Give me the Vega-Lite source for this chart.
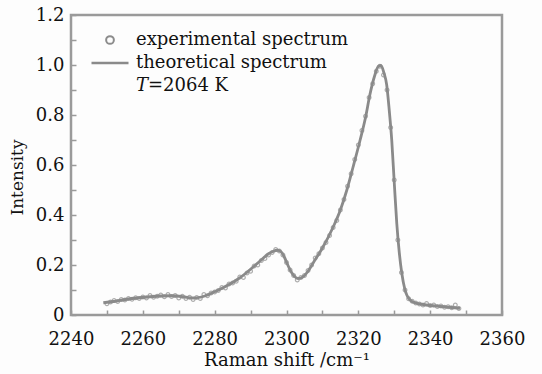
{
  "$schema": "https://vega.github.io/schema/vega-lite/v6.json",
  "width": 431,
  "height": 300,
  "autosize": {"type": "none"},
  "padding": {"left": 71, "top": 15, "right": 40, "bottom": 59},
  "background": "#fdfdfd",
  "config": {
    "font": "DejaVu Serif",
    "view": {"stroke": "#9a9a9a", "strokeWidth": 2.5},
    "axis": {"grid": false, "domain": false, "labelColor": "#111", "titleColor": "#111", "labelFont": "DejaVu Serif", "titleFont": "DejaVu Serif", "titleFontWeight": "normal", "tickColor": "#9a9a9a", "tickWidth": 1.5},
    "legend": {"labelFont": "DejaVu Serif"}
  },
  "datasets": {
    "exp": [
      {"x": 2250, "y": 0.045}, {"x": 2251, "y": 0.052}, {"x": 2252, "y": 0.058}, {"x": 2253, "y": 0.054},
      {"x": 2254, "y": 0.062}, {"x": 2255, "y": 0.060}, {"x": 2256, "y": 0.066}, {"x": 2257, "y": 0.063},
      {"x": 2258, "y": 0.069}, {"x": 2259, "y": 0.066}, {"x": 2260, "y": 0.072}, {"x": 2261, "y": 0.068},
      {"x": 2262, "y": 0.078}, {"x": 2263, "y": 0.071}, {"x": 2264, "y": 0.075}, {"x": 2265, "y": 0.080},
      {"x": 2266, "y": 0.073}, {"x": 2267, "y": 0.082}, {"x": 2268, "y": 0.074}, {"x": 2269, "y": 0.078},
      {"x": 2270, "y": 0.068}, {"x": 2271, "y": 0.075}, {"x": 2272, "y": 0.066}, {"x": 2273, "y": 0.071},
      {"x": 2274, "y": 0.062}, {"x": 2275, "y": 0.070}, {"x": 2276, "y": 0.066}, {"x": 2277, "y": 0.082},
      {"x": 2278, "y": 0.077}, {"x": 2279, "y": 0.088}, {"x": 2280, "y": 0.092}, {"x": 2281, "y": 0.098},
      {"x": 2282, "y": 0.110}, {"x": 2283, "y": 0.108}, {"x": 2284, "y": 0.124}, {"x": 2285, "y": 0.128},
      {"x": 2286, "y": 0.135}, {"x": 2287, "y": 0.152}, {"x": 2288, "y": 0.150}, {"x": 2289, "y": 0.168},
      {"x": 2290, "y": 0.175}, {"x": 2291, "y": 0.196}, {"x": 2292, "y": 0.200}, {"x": 2293, "y": 0.218},
      {"x": 2294, "y": 0.226}, {"x": 2295, "y": 0.240}, {"x": 2296, "y": 0.250}, {"x": 2297, "y": 0.262},
      {"x": 2298, "y": 0.256}, {"x": 2299, "y": 0.240}, {"x": 2300, "y": 0.210}, {"x": 2301, "y": 0.180},
      {"x": 2302, "y": 0.158}, {"x": 2303, "y": 0.140}, {"x": 2304, "y": 0.150}, {"x": 2305, "y": 0.158},
      {"x": 2306, "y": 0.178}, {"x": 2307, "y": 0.200}, {"x": 2308, "y": 0.228}, {"x": 2309, "y": 0.245},
      {"x": 2310, "y": 0.268}, {"x": 2311, "y": 0.290}, {"x": 2312, "y": 0.318}, {"x": 2313, "y": 0.350},
      {"x": 2314, "y": 0.378}, {"x": 2315, "y": 0.420}, {"x": 2316, "y": 0.462}, {"x": 2317, "y": 0.515},
      {"x": 2318, "y": 0.565}, {"x": 2319, "y": 0.622}, {"x": 2320, "y": 0.680}, {"x": 2321, "y": 0.738},
      {"x": 2322, "y": 0.795}, {"x": 2323, "y": 0.870}, {"x": 2324, "y": 0.925}, {"x": 2325, "y": 0.975},
      {"x": 2326, "y": 0.995}, {"x": 2327, "y": 0.960}, {"x": 2328, "y": 0.900}, {"x": 2329, "y": 0.750},
      {"x": 2330, "y": 0.540}, {"x": 2331, "y": 0.300}, {"x": 2332, "y": 0.170}, {"x": 2333, "y": 0.100},
      {"x": 2334, "y": 0.065}, {"x": 2335, "y": 0.055}, {"x": 2336, "y": 0.048}, {"x": 2337, "y": 0.044},
      {"x": 2338, "y": 0.040}, {"x": 2339, "y": 0.046}, {"x": 2340, "y": 0.038}, {"x": 2341, "y": 0.040},
      {"x": 2342, "y": 0.034}, {"x": 2343, "y": 0.036}, {"x": 2344, "y": 0.031}, {"x": 2345, "y": 0.033},
      {"x": 2346, "y": 0.029}, {"x": 2347, "y": 0.040}, {"x": 2348, "y": 0.026}
    ],
    "theo": [
      {"x": 2249, "y": 0.049}, {"x": 2251.8, "y": 0.054}, {"x": 2255.5, "y": 0.063}, {"x": 2259, "y": 0.069},
      {"x": 2262, "y": 0.073}, {"x": 2265, "y": 0.076}, {"x": 2267.6, "y": 0.077}, {"x": 2269.5, "y": 0.076},
      {"x": 2271.3, "y": 0.073}, {"x": 2274, "y": 0.068}, {"x": 2276, "y": 0.071}, {"x": 2277.8, "y": 0.079},
      {"x": 2279.5, "y": 0.090}, {"x": 2281.5, "y": 0.103}, {"x": 2284, "y": 0.122}, {"x": 2286.1, "y": 0.140},
      {"x": 2288.5, "y": 0.165}, {"x": 2290.8, "y": 0.193}, {"x": 2292.8, "y": 0.218}, {"x": 2294.5, "y": 0.240},
      {"x": 2296.2, "y": 0.254}, {"x": 2297.5, "y": 0.259}, {"x": 2298.5, "y": 0.253}, {"x": 2299.3, "y": 0.235},
      {"x": 2300.2, "y": 0.205}, {"x": 2301.2, "y": 0.175}, {"x": 2302.2, "y": 0.155}, {"x": 2303.2, "y": 0.146},
      {"x": 2304.3, "y": 0.150}, {"x": 2306, "y": 0.175}, {"x": 2307.5, "y": 0.210}, {"x": 2310, "y": 0.268},
      {"x": 2313, "y": 0.352}, {"x": 2315, "y": 0.420}, {"x": 2316.8, "y": 0.500}, {"x": 2318.5, "y": 0.590},
      {"x": 2320.5, "y": 0.700}, {"x": 2322, "y": 0.790}, {"x": 2323.2, "y": 0.880}, {"x": 2324.5, "y": 0.955},
      {"x": 2325.6, "y": 0.995}, {"x": 2326.3, "y": 0.998}, {"x": 2327.1, "y": 0.970}, {"x": 2327.9, "y": 0.920},
      {"x": 2328.6, "y": 0.820}, {"x": 2329.3, "y": 0.700}, {"x": 2330, "y": 0.530}, {"x": 2330.7, "y": 0.367},
      {"x": 2331.4, "y": 0.250}, {"x": 2332.1, "y": 0.167}, {"x": 2333, "y": 0.100}, {"x": 2334.4, "y": 0.060},
      {"x": 2336, "y": 0.048}, {"x": 2338, "y": 0.042}, {"x": 2340, "y": 0.038}, {"x": 2343, "y": 0.034},
      {"x": 2346, "y": 0.030}, {"x": 2348.3, "y": 0.027}
    ]
  },
  "encoding": {
    "x": {
      "field": "x", "type": "quantitative",
      "scale": {"domain": [2240, 2360], "nice": false, "zero": false},
      "axis": {
        "title": "Raman shift /cm⁻¹", "titleFontSize": 18, "titlePadding": 3,
        "values": [2240, 2250, 2260, 2270, 2280, 2290, 2300, 2310, 2320, 2330, 2340, 2350, 2360],
        "format": "d",
        "labelExpr": "datum.value % 20 === 0 ? datum.label : ''",
        "labelFontSize": 18, "labelFlush": false, "labelPadding": 20, "tickSize": -5
      }
    },
    "y": {
      "field": "y", "type": "quantitative",
      "scale": {"domain": [0, 1.2], "nice": false},
      "axis": {
        "title": "Intensity", "titleFontSize": 17, "titlePadding": 9, "titleY": 162,
        "values": [0, 0.1, 0.2, 0.3, 0.4, 0.5, 0.6, 0.7, 0.8, 0.9, 1.0, 1.1, 1.2],
        "labelExpr": "round(datum.value * 10) % 2 === 0 ? (datum.value === 0 ? '0' : format(datum.value, '.1f')) : ''",
        "labelFontSize": 18, "labelFlush": false, "labelPadding": 12, "tickSize": -5
      }
    },
    "color": {
      "field": "series", "type": "nominal",
      "scale": {"domain": ["experimental spectrum", "theoretical spectrum", "𝑇=2064 K"], "range": ["#8c8c8c", "#8a8a8a", "#ffffff"]},
      "legend": {
        "orient": "none", "legendX": 30, "legendY": 16, "title": null, "padding": 0,
        "labelFontSize": 18, "labelColor": "#111", "labelLimit": 0,
        "symbolSize": 64, "labelOffset": 17, "rowPadding": 5,
        "encode": {
          "symbols": {
            "update": {
              "shape": {"signal": "datum.value === 'experimental spectrum' ? 'circle' : 'stroke'"},
              "size": {"signal": "datum.value === 'theoretical spectrum' ? 1369 : 60"},
              "opacity": {"signal": "datum.value === 'experimental spectrum' || datum.value === 'theoretical spectrum' ? 1 : 0"},
              "fill": {"value": "transparent"},
              "stroke": {"value": "#8c8c8c"},
              "strokeWidth": {"signal": "datum.value === 'theoretical spectrum' ? 2.5 : 2"}
            }
          }
        }
      }
    }
  },
  "layer": [
    {
      "data": {"name": "exp"},
      "transform": [{"calculate": "'experimental spectrum'", "as": "series"}],
      "mark": {"type": "point", "shape": "circle", "filled": false, "size": 14, "strokeWidth": 1.2, "opacity": 0.7}
    },
    {
      "data": {"name": "theo"},
      "transform": [{"calculate": "'theoretical spectrum'", "as": "series"}],
      "mark": {"type": "line", "strokeWidth": 2.8, "interpolate": "monotone"}
    }
  ]
}
